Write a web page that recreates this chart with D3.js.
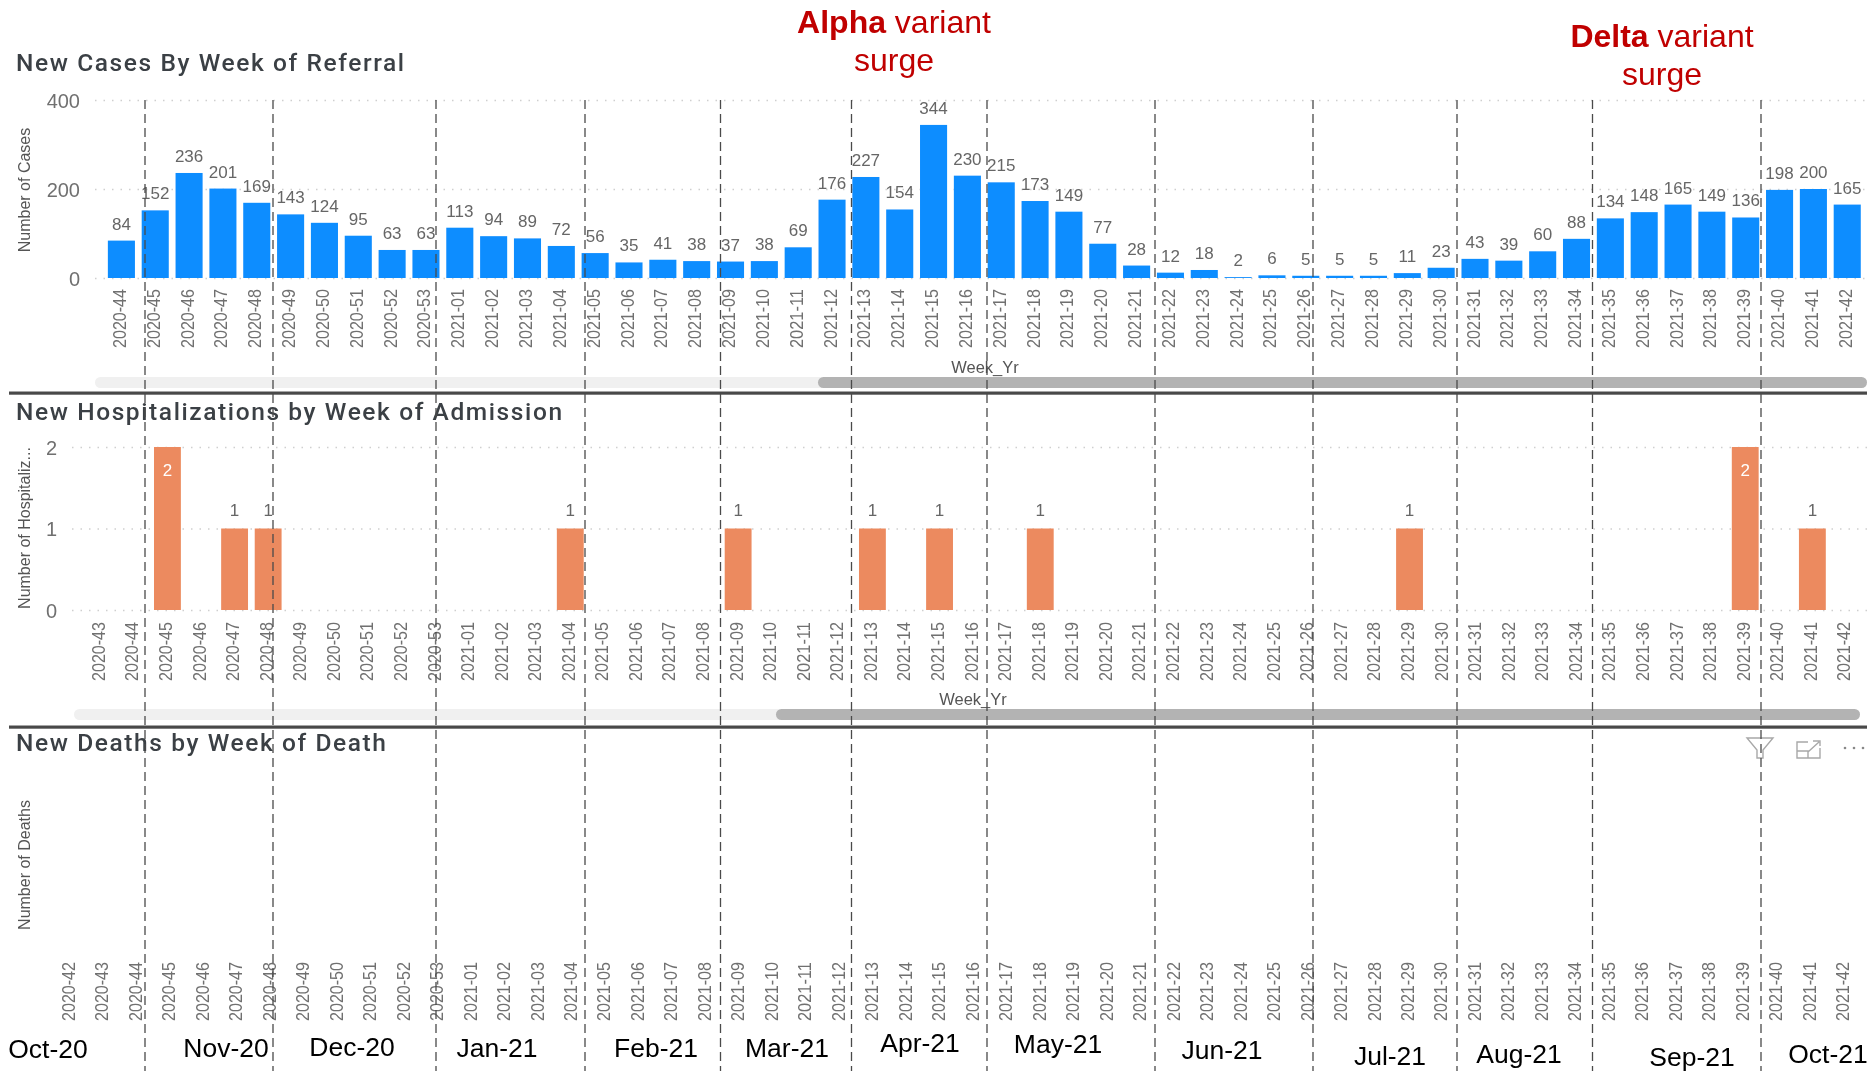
<!DOCTYPE html>
<html><head><meta charset="utf-8">
<script src="https://cdn.jsdelivr.net/npm/d3@7"></script>
<style>
html,body{margin:0;padding:0;background:#fff;overflow:hidden}
svg{display:block}
text{font-family:"Liberation Sans",Arial,sans-serif}
.title{font-family:Roboto,sans-serif;font-size:24.5px;font-weight:500;letter-spacing:1.6px;fill:#3a3f44}
.tick text{fill:#707070}
.domain{display:none}
</style></head><body>
<svg id="c" width="1867" height="1071"></svg>
<script>
const casesWeeks=["2020-44","2020-45","2020-46","2020-47","2020-48","2020-49","2020-50","2020-51","2020-52","2020-53","2021-01","2021-02","2021-03","2021-04","2021-05","2021-06","2021-07","2021-08","2021-09","2021-10","2021-11","2021-12","2021-13","2021-14","2021-15","2021-16","2021-17","2021-18","2021-19","2021-20","2021-21","2021-22","2021-23","2021-24","2021-25","2021-26","2021-27","2021-28","2021-29","2021-30","2021-31","2021-32","2021-33","2021-34","2021-35","2021-36","2021-37","2021-38","2021-39","2021-40","2021-41","2021-42"];
const casesValues=[84,152,236,201,169,143,124,95,63,63,113,94,89,72,56,35,41,38,37,38,69,176,227,154,344,230,215,173,149,77,28,12,18,2,6,5,5,5,11,23,43,39,60,88,134,148,165,149,136,198,200,165];
const hospWeeks=["2020-43"].concat(casesWeeks);
const hospValues=[0,0,2,0,1,1,0,0,0,0,0,0,0,0,1,0,0,0,0,1,0,0,0,1,0,1,0,0,1,0,0,0,0,0,0,0,0,0,0,1,0,0,0,0,0,0,0,0,0,2,0,1,0];
const deathWeeks=["2020-42"].concat(hospWeeks);
const deathValues=deathWeeks.map(()=>0);
const casesTicks=[0,200,400];
const hospTicks=[0,1,2];
const monthNames=["Oct-20","Nov-20","Dec-20","Jan-21","Feb-21","Mar-21","Apr-21","May-21","Jun-21","Jul-21","Aug-21","Sep-21","Oct-21"];
const monthLabelX=[48,226,352,497,656,787,920,1058,1222,1390,1519,1692,1828];
const monthLabelY=[1049,1048,1047,1048,1048,1048,1043,1044,1050,1056,1054,1057,1054];
const monthBoundaries=[145,273,436,585,720.5,851.5,987,1155,1313,1457,1592.5,1761];

const svg=d3.select("#c");
const defs=svg.append("defs");
defs.append("filter").attr("id","soft").attr("x","-2%").attr("y","-2%").attr("width","104%").attr("height","104%")
  .append("feGaussianBlur").attr("stdDeviation",0.55);
const pbi=svg.append("g").attr("filter","url(#soft)");

function panel(o){
  const g=pbi.append("g");
  g.append("text").attr("class","title").attr("x",16).attr("y",o.titleY).text(o.title);
  const n=o.weeks.length;
  const x=d3.scaleBand().domain(o.weeks)
    .range([o.c0-o.step/2,o.c0+(n-1)*o.step+o.step/2]).paddingInner(0.2).paddingOuter(0.1);
  if(o.ticks){
    const y=d3.scaleLinear().domain([0,d3.max(o.ticks)]).range([o.y0,o.yTop]);
    const ya=g.append("g").attr("transform",`translate(${o.axisX},0)`)
      .call(d3.axisLeft(y).tickValues(o.ticks).tickFormat(d3.format("d")).tickSize(0).tickPadding(0));
    ya.selectAll("text").attr("font-size",20).attr("font-family","Liberation Sans").attr("dy","0.36em");
    g.append("g").attr("transform",`translate(${o.gridX},0)`)
      .call(d3.axisLeft(y).tickValues(o.ticks).tickSize(-(1867-o.gridX)).tickFormat(""))
      .call(s=>s.selectAll("line").attr("stroke","#cfcfcf").attr("stroke-width",1.4).attr("stroke-dasharray","1.5 7"));
    const data=o.weeks.map((w,i)=>({w,v:o.values[i]})).filter(d=>d.v>0);
    g.selectAll("rect.bar").data(data).join("rect").attr("class","bar")
      .attr("x",d=>x(d.w)).attr("width",x.bandwidth())
      .attr("y",d=>y(d.v)).attr("height",d=>o.y0-y(d.v)).attr("fill",o.color);
    g.selectAll("text.lab").data(data).join("text").attr("class","lab")
      .attr("x",d=>x(d.w)+x.bandwidth()/2)
      .attr("y",d=>o.inside&&d.v===o.inside?y(d.v)+29:y(d.v)-o.labGap)
      .attr("text-anchor","middle").attr("font-size",17)
      .attr("fill",d=>o.inside&&d.v===o.inside?"#fff":"#666").text(d=>d.v);
  }
  const xa=g.append("g").attr("transform",`translate(-2,${o.labTop})`)
    .call(d3.axisBottom(x).tickSize(0).tickPadding(0));
  xa.selectAll("text").attr("font-size",18).attr("textLength",59).attr("lengthAdjust","spacingAndGlyphs")
    .attr("text-anchor","end").attr("dy",0).attr("y",0)
    .attr("transform","rotate(-90) translate(0,6.5)");
  g.append("text").attr("transform",`translate(30,${o.yTitleY}) rotate(-90)`).attr("text-anchor","middle")
    .attr("font-size",16).attr("fill","#555").text(o.yTitle);
  if(o.xTitleX) g.append("text").attr("x",o.xTitleX).attr("y",o.xTitleY).attr("text-anchor","middle")
    .attr("font-size",16.5).attr("fill","#555").text("Week_Yr");
  if(o.track){
    g.append("rect").attr("x",o.track[0]).attr("y",o.trackY).attr("width",o.track[1]-o.track[0]).attr("height",11).attr("rx",5.5).attr("fill","#f0f0f0");
    g.append("rect").attr("x",o.thumb[0]).attr("y",o.trackY).attr("width",o.thumb[1]-o.thumb[0]).attr("height",11).attr("rx",5.5).attr("fill","#b3b3b3");
  }
  if(o.dividerY){
    g.append("rect").attr("x",9).attr("y",o.dividerY-1.5).attr("width",1858).attr("height",3.2).attr("fill","#4a4a4a");
  }
}

panel({title:"New Cases By Week of Referral",titleY:71,weeks:casesWeeks,values:casesValues,c0:121.4,step:33.84,
  ticks:casesTicks,y0:278,yTop:100,gridX:95,axisX:80,color:"#118DFF",labGap:11,labTop:289,
  yTitle:"Number of Cases",yTitleY:190,xTitleX:985,xTitleY:373,
  track:[95,1867],thumb:[818,1867],trackY:377,dividerY:393});
panel({title:"New Hospitalizations by Week of Admission",titleY:420,weeks:hospWeeks,values:hospValues,c0:100.3,step:33.57,
  ticks:hospTicks,y0:610,yTop:447,gridX:72,axisX:57,color:"#EC8A5E",labGap:13,labTop:622,inside:2,
  yTitle:"Number of Hospitaliz...",yTitleY:528,xTitleX:973,xTitleY:705,
  track:[74,1860],thumb:[776,1860],trackY:709,dividerY:727});
panel({title:"New Deaths by Week of Death",titleY:751,weeks:deathWeeks,values:deathValues,c0:70.3,step:33.48,
  labTop:962,yTitle:"Number of Deaths",yTitleY:865});

// visual header icons
const icons=pbi.append("g").attr("fill","none").attr("stroke","#a8a8a8").attr("stroke-width",1.4);
icons.append("path").attr("d","M1747 738H1773L1763 750V758H1757V750Z");
icons.append("path").attr("d","M1808 742H1797V758H1820V748M1797 751H1808V758M1808 752L1819 742M1813 741H1820V746");
icons.selectAll("circle").data([1845,1854,1863]).join("circle").attr("cx",d=>d).attr("cy",748).attr("r",1.3).attr("fill","#888").attr("stroke","none");

// month boundaries
svg.append("g").selectAll("line").data(monthBoundaries).join("line")
  .attr("x1",d=>d).attr("x2",d=>d).attr("y1",100).attr("y2",1071)
  .attr("stroke","#4a4a4a").attr("stroke-width",1.3).attr("stroke-dasharray","9 5");

// month labels
svg.append("g").selectAll("text").data(monthNames).join("text")
  .attr("x",(d,i)=>monthLabelX[i]).attr("y",(d,i)=>monthLabelY[i]+9)
  .attr("text-anchor","middle").attr("font-size",26.5).attr("fill","#000").text(d=>d);

// surge annotations
function surge(cx,y,name){
  const t=svg.append("text").attr("x",cx).attr("y",y).attr("text-anchor","middle").attr("font-size",32).attr("fill","#C00000");
  t.append("tspan").attr("font-weight","bold").text(name);
  t.append("tspan").text(" variant");
  svg.append("text").attr("x",cx).attr("y",y+38).attr("text-anchor","middle").attr("font-size",32).attr("fill","#C00000").text("surge");
}
surge(894,33,"Alpha");
surge(1662,47,"Delta");
</script>
</body></html>
